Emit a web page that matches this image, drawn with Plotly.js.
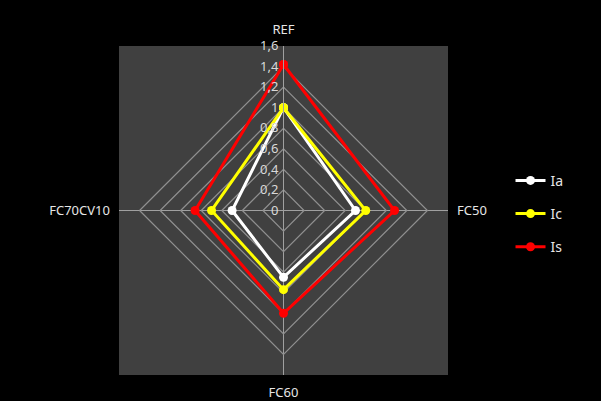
<!DOCTYPE html>
<html>
<head>
<meta charset="utf-8">
<script src="https://cdn.plot.ly/plotly-3.0.1.min.js"></script>
<style>html,body{margin:0;padding:0;background:#000;}#chart{width:601px;height:401px;}</style>
</head>
<body>
<div id="chart"></div>
<script>
var categories = ['REF', 'FC50', 'FC60', 'FC70CV10'];
var seriesNames = ['Ia', 'Ic', 'Is'];
var iaValues = [1.0, 0.70, 0.65, 0.50];
var icValues = [1.0, 0.80, 0.77, 0.70];
var isValues = [1.42, 1.08, 1.0, 0.86];
var radialTicks = [0, 0.2, 0.4, 0.6, 0.8, 1, 1.2, 1.4, 1.6];

var colors = ['#ffffff', '#ffff00', '#ff0000'];
var allValues = [iaValues, icValues, isValues];

function closeLoop(a) { return a.concat([a[0]]); }

var traces = allValues.map(function (vals, i) {
  return {
    type: 'scatterpolar',
    r: closeLoop(vals),
    theta: closeLoop(categories),
    name: seriesNames[i],
    mode: 'lines+markers',
    line: { color: colors[i], width: 3 },
    marker: { color: colors[i], size: 9 },
    legendgroup: 'g' + i
  };
});

var layout = {
  width: 601,
  height: 401,
  paper_bgcolor: '#000000',
  plot_bgcolor: '#000000',
  separators: ',.',
  font: { family: 'Noto Sans, Liberation Sans, sans-serif', color: '#d9d9d9', size: 13 },
  margin: { l: 119, r: 153, t: 46, b: 26 },
  showlegend: true,
  legend: {
    x: 1.19, y: 0.49, xanchor: 'left', yanchor: 'middle',
    bgcolor: 'rgba(0,0,0,0)',
    font: { color: '#e6e6e6', size: 14 },
    tracegroupgap: 12
  },
  shapes: [{
    type: 'rect', xref: 'paper', yref: 'paper',
    x0: 0, x1: 1, y0: 0, y1: 1,
    fillcolor: '#404040', line: { width: 0 }, layer: 'below'
  }],
  polar: {
    domain: { x: [0, 1], y: [0, 1] },
    bgcolor: 'rgba(0,0,0,0)',
    gridshape: 'linear',
    angularaxis: {
      direction: 'clockwise',
      rotation: 90,
      categoryorder: 'array',
      categoryarray: categories,
      showline: false,
      showgrid: true,
      gridcolor: '#a0a0a0',
      gridwidth: 1,
      ticks: 'outside',
      ticklen: 6,
      tickcolor: 'rgba(0,0,0,0)',
      tickfont: { color: '#e6e6e6', size: 13 }
    },
    radialaxis: {
      range: [0, 1.6],
      tickvals: radialTicks,
      angle: 90,
      side: 'counterclockwise',
      showline: true,
      linecolor: '#a0a0a0',
      linewidth: 1,
      gridcolor: '#909090',
      gridwidth: 1.2,
      ticks: '',
      tickfont: { color: '#d9d9d9', size: 13 },
      tickangle: 90
    }
  }
};

Plotly.newPlot('chart', traces, layout, { displayModeBar: false, staticPlot: true });
</script>
</body>
</html>
